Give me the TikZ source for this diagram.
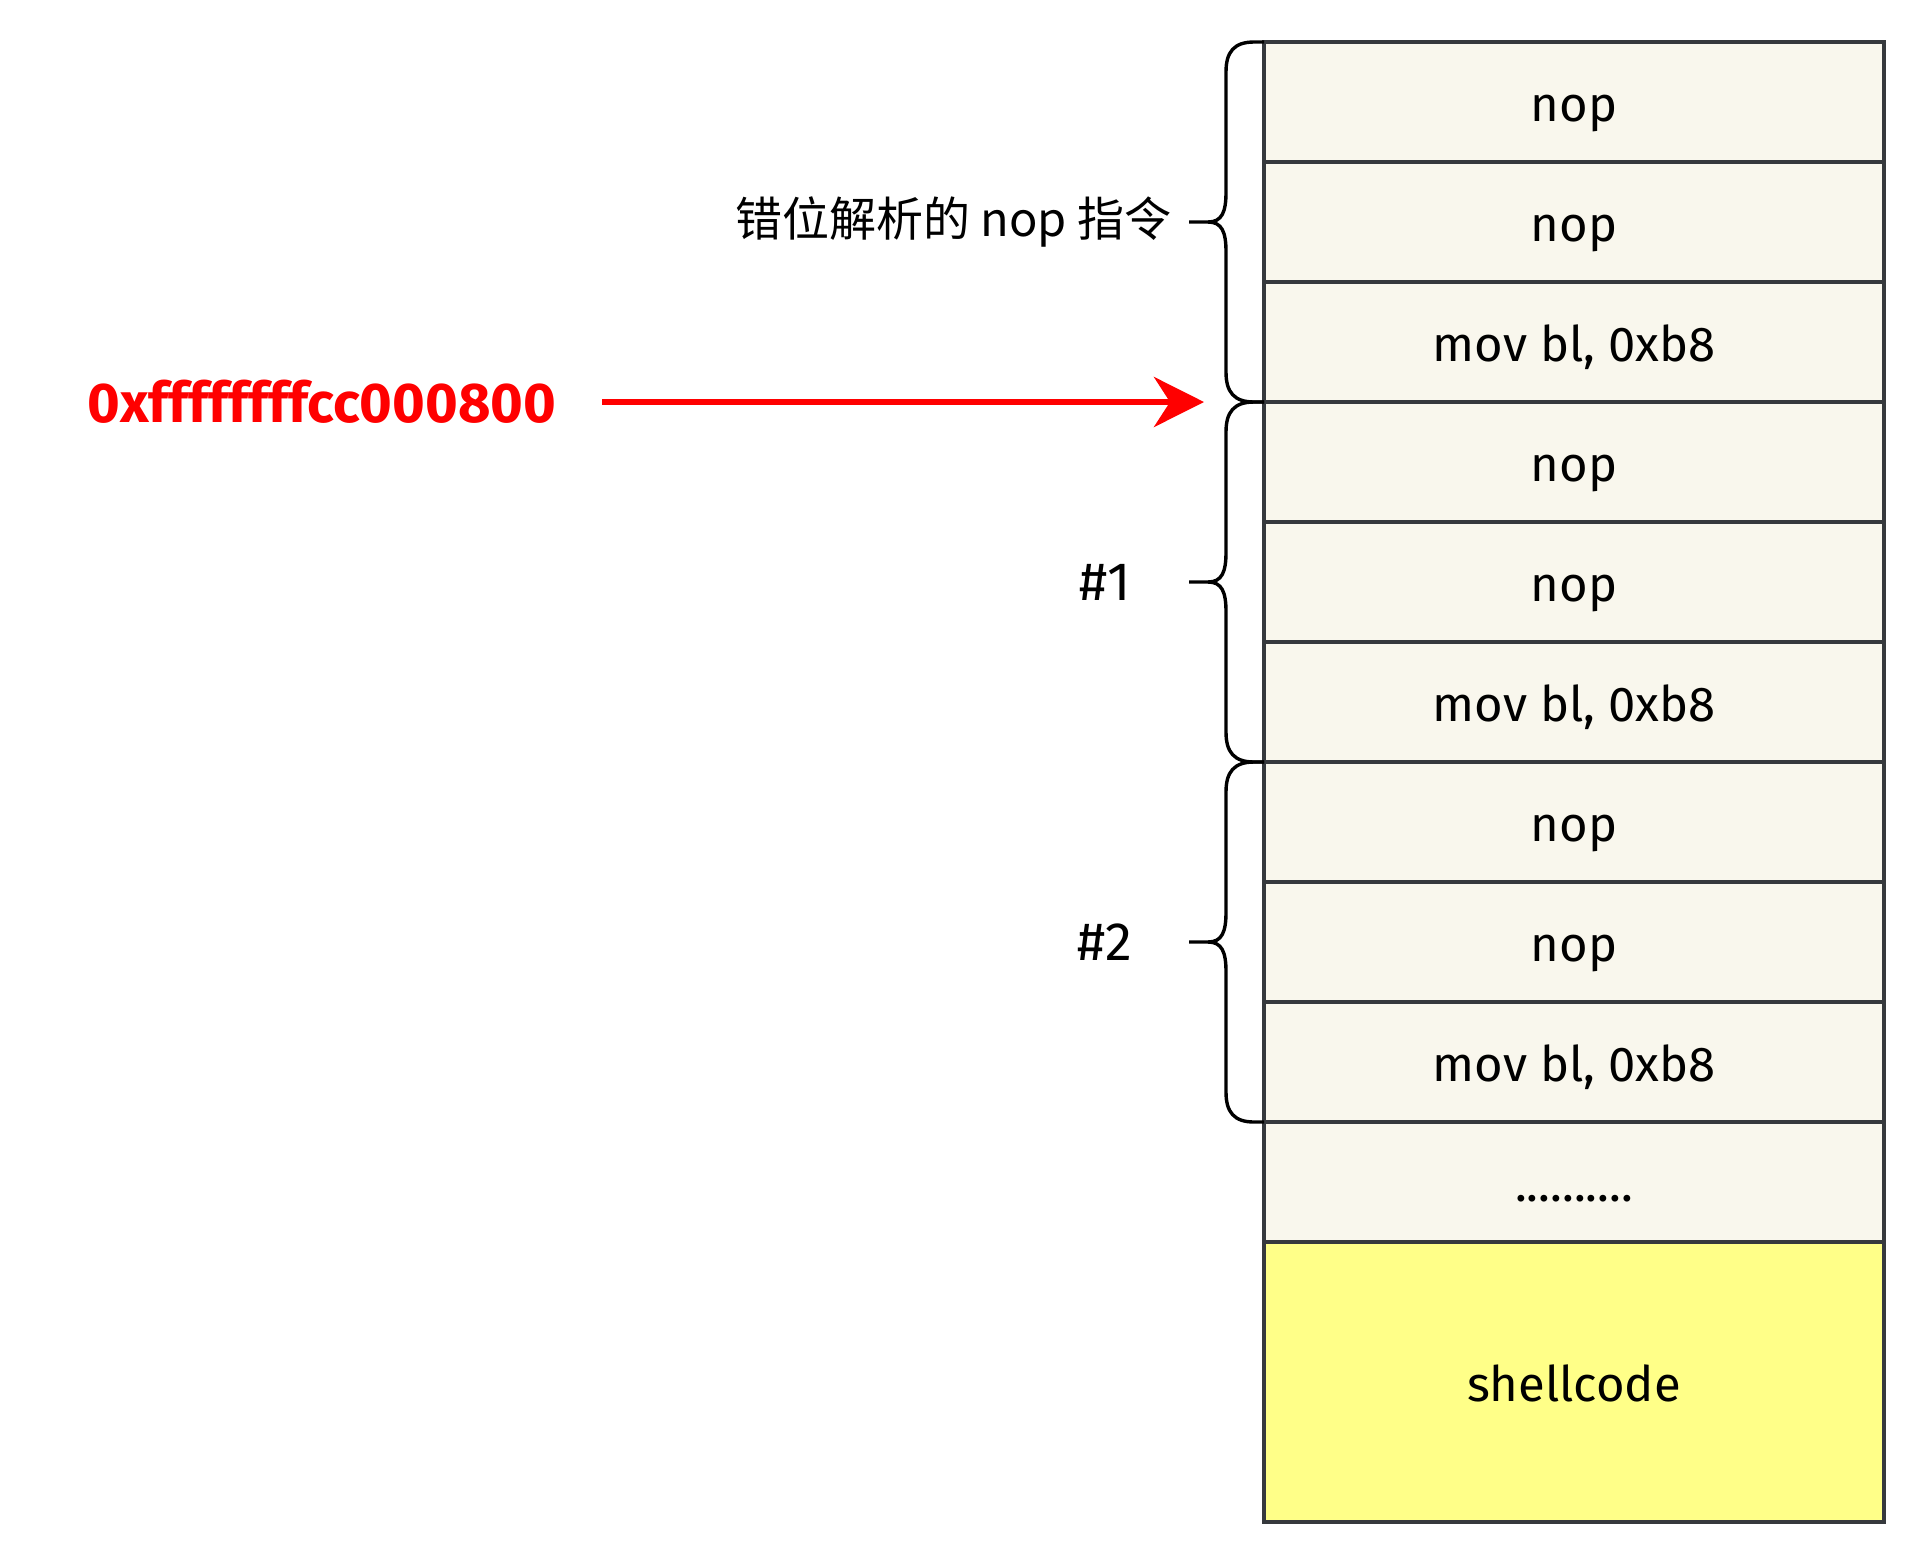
\documentclass[tikz,border=0pt]{standalone}
\usepackage{fontspec}
\setmainfont{Fira Sans}
\newfontfamily\cjk{Noto Sans CJK SC}
\usetikzlibrary{arrows.meta}
\definecolor{cellborder}{HTML}{36393D}
\definecolor{cellfill}{HTML}{F9F7ED}
\definecolor{shellfill}{HTML}{FFFF88}
\definecolor{addrred}{HTML}{FF0000}
\tikzset{
  cell/.style={draw=cellborder, line width=1.6pt, fill=cellfill, minimum width=310pt, minimum height=60pt, inner sep=0pt, font=\fontsize{24.5}{28}\selectfont, text height=24pt, text depth=5pt},
  shell/.style={cell, fill=shellfill, minimum height=140pt},
  bracestyle/.style={draw=black, line width=1.7pt},
  grouplabel/.style={font=\fontsize{23.5}{28}\selectfont, inner sep=0pt},
  hashlabel/.style={font=\fontsize{27}{30}\selectfont, inner sep=0pt},
  addrstyle/.style={font=\fontsize{28}{32}\selectfont\bfseries, text=addrred, inner sep=0pt},
  redarrow/.style={draw=addrred, line width=3pt, -{Stealth[length=25pt, width=25pt, inset=8pt]}}
}
\begin{document}
\begin{tikzpicture}[x=0.5pt, y=-0.5pt]
\useasboundingbox (0,0) rectangle (1928,1564);
% cells
\node[cell] (c1) at (1574,102) {nop};
\node[cell] (c2) at (1574,222) {nop};
\node[cell] (c3) at (1574,342) {mov bl, 0xb8};
\node[cell] (c4) at (1574,462) {nop};
\node[cell] (c5) at (1574,582) {nop};
\node[cell] (c6) at (1574,702) {mov bl, 0xb8};
\node[cell] (c7) at (1574,822) {nop};
\node[cell] (c8) at (1574,942) {nop};
\node[cell] (c9) at (1574,1062) {mov bl, 0xb8};
\node[cell] (c10) at (1574,1182) {..........};
\node[shell] (c11) at (1574,1382) {shellcode};
% braces
\foreach \t/\b in {42/402, 402/762, 762/1122}{
  \pgfmathsetmacro\m{(\t+\b)/2}
  \draw[bracestyle] (1264,\t) -- (1254,\t) .. controls (1234,\t) and (1226,\t+10) .. (1226,\t+30)
     -- (1226,\m-30) .. controls (1226,\m-10) and (1222,\m) .. (1208,\m) -- (1189,\m);
  \draw[bracestyle] (1208,\m) .. controls (1222,\m) and (1226,\m+10) .. (1226,\m+30)
     -- (1226,\b-30) .. controls (1226,\b-10) and (1234,\b) .. (1254,\b) -- (1264,\b);
}
% labels
\node[grouplabel, anchor=east] (l1) at (1172,222) {\cjk 错位解析的 nop 指令};
\node[hashlabel] (l2) at (1105,582) {\#1};
\node[hashlabel] (l3) at (1105,942) {\#2};
% address arrow
\node[addrstyle] (addr) at (322,402) {0xffffffffcc000800};
\coordinate (tail) at (602,402);
\coordinate (tip) at (1204,402);
\draw[redarrow] (tail) -- (tip);
\end{tikzpicture}
\end{document}
